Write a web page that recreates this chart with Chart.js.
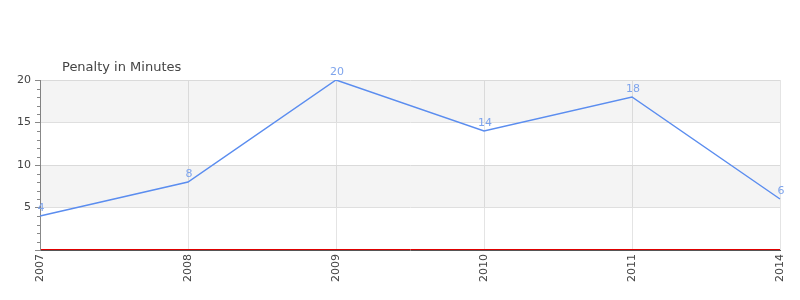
<!DOCTYPE html>
<html>
<head>
<meta charset="utf-8">
<script src="https://cdn.jsdelivr.net/npm/chart.js@4/dist/chart.umd.min.js"></script>
<style>
  html, body { margin: 0; padding: 0; background: #fff; }
  #wrap { width: 800px; height: 300px; }
</style>
</head>
<body>
<div id="wrap"><canvas id="penaltyChart" width="800" height="300"></canvas></div>
<script>
// chart data
const years = ["2007", "2008", "2009", "2010", "2011", "2014"];
const penaltyMinutes = [4, 8, 20, 14, 18, 6];
const yTicks = [0, 5, 10, 15, 20];
const chartTitle = "Penalty in Minutes";

const FONT = "'DejaVu Sans', sans-serif";

// alternating bands, minor ticks, title and point labels
const decorPlugin = {
    id: "decor",
    beforeDatasetsDraw(chart) {
        const ctx = chart.ctx;
        const area = chart.chartArea;
        const y = chart.scales.y;
        ctx.save();
        ctx.fillStyle = "rgba(0,0,0,0.045)";
        [[5, 10], [15, 20]].forEach(([a, b]) => {
            const top = y.getPixelForValue(b);
            const bot = y.getPixelForValue(a);
            ctx.fillRect(area.left, top, area.right - area.left, bot - top);
        });
        ctx.restore();
    },
    afterDraw(chart) {
        const ctx = chart.ctx;
        const area = chart.chartArea;
        const y = chart.scales.y;
        ctx.save();
        // minor ticks
        ctx.strokeStyle = "#888";
        ctx.lineWidth = 1;
        for (let v = 1; v < 20; v++) {
            if (v % 5 === 0) continue;
            const py = Math.round(y.getPixelForValue(v)) + 0.5;
            ctx.beginPath();
            ctx.moveTo(area.left - 3, py);
            ctx.lineTo(area.left, py);
            ctx.stroke();
        }
        // red zero line right on top of the axis
        ctx.strokeStyle = "#e00000";
        const zy = Math.round(y.getPixelForValue(0)) - 0.5;
        ctx.beginPath();
        ctx.moveTo(area.left + 1, zy);
        ctx.lineTo(area.right, zy);
        ctx.stroke();
        // title
        ctx.fillStyle = "#444";
        ctx.font = "13px " + FONT;
        ctx.textAlign = "left";
        ctx.textBaseline = "middle";
        ctx.fillText(chartTitle, area.left + 22, area.top - 12);
        // point labels
        const meta = chart.getDatasetMeta(0);
        ctx.fillStyle = "#7ea4ec";
        ctx.font = "11px " + FONT;
        ctx.textAlign = "center";
        ctx.textBaseline = "bottom";
        meta.data.forEach((pt, i) => {
            ctx.fillText(String(penaltyMinutes[i]), pt.x + 1, pt.y - 2);
        });
        ctx.restore();
    }
};

const ctx = document.getElementById("penaltyChart").getContext("2d");
new Chart(ctx, {
    type: "line",
    data: {
        labels: years,
        datasets: [
            {
                label: chartTitle,
                data: penaltyMinutes,
                borderColor: "#5b8def",
                borderWidth: 1.5,
                pointRadius: 0,
                tension: 0,
                fill: false,
            },
        ],
    },
    options: {
        responsive: false,
        animation: false,
        layout: { padding: { top: 80, right: 20, left: 0, bottom: 0 } },
        plugins: {
            legend: { display: false },
            title: { display: false },
            tooltip: { enabled: false },
        },
        scales: {
            x: {
                offset: false,
                grid: { color: "#e4e4e4", drawTicks: false },
                border: { color: "#555", width: 1 },
                ticks: {
                    minRotation: 90,
                    maxRotation: 90,
                    padding: 4,
                    color: "#444",
                    font: { family: FONT, size: 11 },
                },
                afterFit(scale) { scale.height = 50; },
            },
            y: {
                min: 0,
                max: 20,
                afterBuildTicks(scale) {
                    scale.ticks = yTicks.map((v) => ({ value: v }));
                },
                grid: {
                    color: (c) => (c.tick && c.tick.value === 0 ? "rgba(0,0,0,0)" : "#e4e4e4"),
                    tickColor: "#888",
                    tickLength: 5,
                },
                border: { color: "#888", width: 1 },
                ticks: {
                    padding: 4,
                    color: "#444",
                    font: { family: FONT, size: 11 },
                    callback: (v) => (v === 0 ? "" : v),
                },
                afterFit(scale) { scale.width = 40; },
            },
        },
    },
    plugins: [decorPlugin],
});
</script>
</body>
</html>
